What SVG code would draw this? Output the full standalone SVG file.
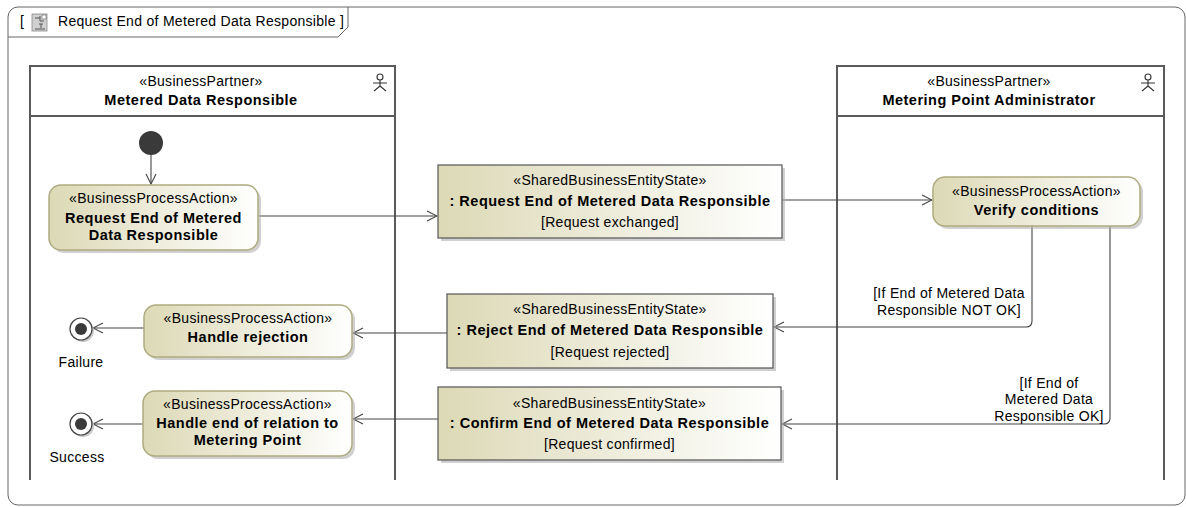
<svg xmlns="http://www.w3.org/2000/svg" width="1186" height="507" viewBox="0 0 1186 507">
<style>
text{font-family:"Liberation Sans",Arial,sans-serif;font-size:14px;fill:#000;letter-spacing:0.3px}
.b{font-weight:bold;font-size:14.5px;letter-spacing:0.5px}
.c{text-anchor:middle}
.lane{fill:none;stroke:#5a5a5a;stroke-width:2}
.act{fill:url(#g);stroke:#aeab80;stroke-width:1.5}
.obj{fill:url(#g);stroke:#555;stroke-width:1.2}
.sh{fill:#b0b0b0;opacity:0.6}
.con{fill:none;stroke:#444;stroke-width:1.1}
.actor{fill:none;stroke:#333;stroke-width:1.1}
</style>
<defs>
<linearGradient id="g" x1="0" y1="0" x2="1" y2="0">
<stop offset="0" stop-color="#dcd9b6"/>
<stop offset="1" stop-color="#ffffff"/>
</linearGradient>
<marker id="arr" viewBox="0 0 12 12" refX="11" refY="6" markerWidth="12" markerHeight="12" markerUnits="userSpaceOnUse" orient="auto">
<path d="M1,1 L11,6 L1,11" fill="none" stroke="#444" stroke-width="1.1"/>
</marker>
</defs>
<g id="frame">
<rect x="8" y="7" width="1177" height="498" rx="10" fill="#fff" stroke="#666" stroke-width="1"/>
<path d="M8,37 H338 L348,27 V7" fill="none" stroke="#666" stroke-width="1"/>
<text x="20" y="26">[</text>
<rect x="32" y="14" width="15" height="17" fill="#d0d0d0" stroke="#888" stroke-width="0.8"/>
<path d="M35,18 H40 M40,16 V21 H44 M39,24 H43 M41,24 V28 M35,29 H45" fill="none" stroke="#555" stroke-width="1"/>
<rect x="42" y="15" width="4" height="4" fill="#fff" stroke="#666" stroke-width="0.6"/>
<text x="58" y="26">Request End of Metered Data Responsible ]</text>
</g>
<g id="lane-mdr">
<path class="lane" d="M30,480 V66 H395 V480 M30,116 H395"/>
<text class="c" x="201" y="86">«BusinessPartner»</text>
<text class="b c" x="201" y="105">Metered Data Responsible</text>
<g class="actor"><circle cx="380" cy="77" r="3"/><path d="M380,80 V86 M373,83 H387 M380,86 L374,91 M380,86 L386,91"/></g>
</g>
<g id="lane-mpa">
<path class="lane" d="M837,480 V66 H1164 V480 M837,116 H1164"/>
<text class="c" x="989" y="86">«BusinessPartner»</text>
<text class="b c" x="989" y="105">Metering Point Administrator</text>
<g class="actor"><circle cx="1148" cy="77" r="3"/><path d="M1148,80 V86 M1141,83 H1155 M1148,86 L1142,91 M1148,86 L1154,91"/></g>
</g>
<g id="connectors">
<path class="con" d="M151,155 V184" marker-end="url(#arr)"/>
<path class="con" d="M258,216 H437" marker-end="url(#arr)"/>
<path class="con" d="M782,200 H932" marker-end="url(#arr)"/>
<path class="con" d="M1032,226 V321 Q1032,327 1026,327 H774" marker-end="url(#arr)"/>
<path class="con" d="M1110,226 V418 Q1110,424 1104,424 H782" marker-end="url(#arr)"/>
<path class="con" d="M447,333 H353" marker-end="url(#arr)"/>
<path class="con" d="M144,328 H93" marker-end="url(#arr)"/>
<path class="con" d="M438,419 H353" marker-end="url(#arr)"/>
<path class="con" d="M143,424 H93" marker-end="url(#arr)"/>
<text class="c" x="949" y="298">[If End of Metered Data</text>
<text class="c" x="949" y="315">Responsible NOT OK]</text>
<text class="c" x="1049" y="388">[If End of</text>
<text class="c" x="1049" y="404">Metered Data</text>
<text class="c" x="1049" y="421">Responsible OK]</text>
</g>
<g id="initial">
<circle cx="151" cy="143" r="12" fill="#3a3a3a"/>
</g>
<g id="a-request">
<rect class="sh" x="52" y="188" width="209" height="65" rx="12"/>
<rect class="act" x="49" y="185" width="209" height="65" rx="12"/>
<text class="c" x="153.5" y="203">«BusinessProcessAction»</text>
<text class="b c" x="153.5" y="223">Request End of Metered</text>
<text class="b c" x="153.5" y="240">Data Responsible</text>
</g>
<g id="s-request">
<rect class="sh" x="441" y="168" width="344" height="73"/>
<rect class="obj" x="438" y="165" width="344" height="73"/>
<text class="c" x="610" y="185">«SharedBusinessEntityState»</text>
<text class="b c" x="610" y="206">: Request End of Metered Data Responsible</text>
<text class="c" x="610" y="227">[Request exchanged]</text>
</g>
<g id="a-verify">
<rect class="sh" x="936" y="180" width="207" height="49" rx="12"/>
<rect class="act" x="933" y="177" width="207" height="49" rx="12"/>
<text class="c" x="1036.5" y="196">«BusinessProcessAction»</text>
<text class="b c" x="1036.5" y="215">Verify conditions</text>
</g>
<g id="s-reject">
<rect class="sh" x="450" y="297" width="326" height="74"/>
<rect class="obj" x="447" y="294" width="326" height="74"/>
<text class="c" x="610" y="314">«SharedBusinessEntityState»</text>
<text class="b c" x="610" y="335">: Reject End of Metered Data Responsible</text>
<text class="c" x="610" y="357">[Request rejected]</text>
</g>
<g id="s-confirm">
<rect class="sh" x="441" y="390" width="343" height="73"/>
<rect class="obj" x="438" y="387" width="343" height="73"/>
<text class="c" x="609.5" y="408">«SharedBusinessEntityState»</text>
<text class="b c" x="609.5" y="428">: Confirm End of Metered Data Responsible</text>
<text class="c" x="609.5" y="449">[Request confirmed]</text>
</g>
<g id="a-rejection">
<rect class="sh" x="147" y="308" width="208" height="52" rx="12"/>
<rect class="act" x="144" y="305" width="208" height="52" rx="12"/>
<text class="c" x="248" y="323">«BusinessProcessAction»</text>
<text class="b c" x="248" y="342">Handle rejection</text>
</g>
<g id="a-endrel">
<rect class="sh" x="146" y="394" width="209" height="65" rx="12"/>
<rect class="act" x="143" y="391" width="209" height="65" rx="12"/>
<text class="c" x="247.5" y="409">«BusinessProcessAction»</text>
<text class="b c" x="247.5" y="428">Handle end of relation to</text>
<text class="b c" x="247.5" y="445">Metering Point</text>
</g>
<g id="f-failure">
<circle cx="83" cy="331" r="11" fill="#c8c8c8"/>
<circle cx="81" cy="329" r="11" fill="#fff" stroke="#444" stroke-width="1.2"/>
<circle cx="81" cy="329" r="6" fill="#3a3a3a"/>
<text class="c" x="81" y="367">Failure</text>
</g>
<g id="f-success">
<circle cx="83" cy="426" r="11" fill="#c8c8c8"/>
<circle cx="81" cy="424" r="11" fill="#fff" stroke="#444" stroke-width="1.2"/>
<circle cx="81" cy="424" r="6" fill="#3a3a3a"/>
<text class="c" x="77" y="462">Success</text>
</g>
</svg>
